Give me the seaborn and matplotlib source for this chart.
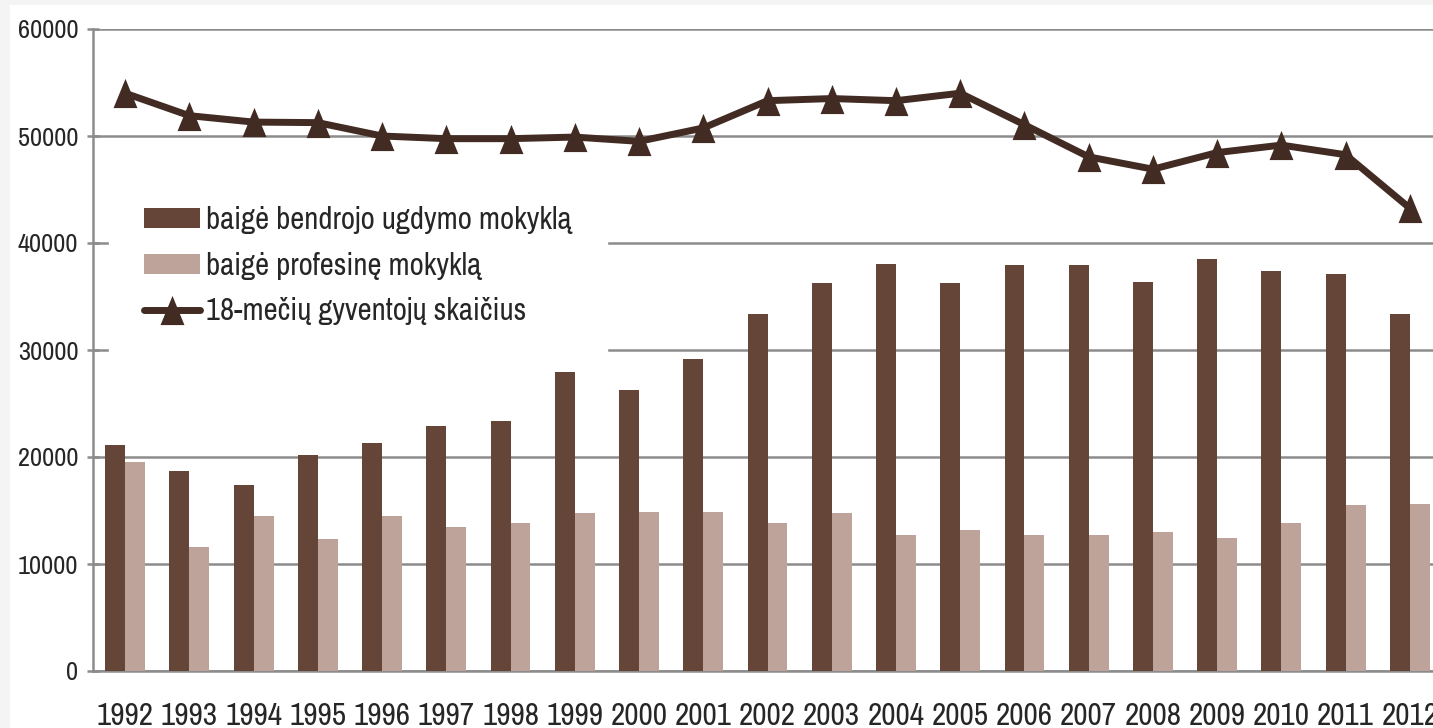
import numpy as np
import pandas as pd
import matplotlib
matplotlib.use("Agg")
import matplotlib.pyplot as plt
import seaborn as sns
from matplotlib import font_manager
from matplotlib.path import Path
from matplotlib.patches import Patch, Rectangle
from matplotlib.lines import Line2D

# Data
years = [str(y) for y in range(1992, 2013)]
general_school = [21100, 18700, 17400, 20200, 21300, 22900, 23400, 27900, 26300, 29200,
                  33400, 36300, 38000, 36300, 37900, 37900, 36400, 38500, 37400, 37100, 33400]
vocational_school = [19500, 11600, 14500, 12300, 14500, 13500, 13800, 14800, 14900, 14900,
                     13800, 14800, 12700, 13200, 12700, 12700, 13000, 12400, 13800, 15500, 15600]
population_18 = [54000, 51900, 51300, 51250, 50000, 49750, 49750, 49900, 49500, 50750,
                 53300, 53500, 53300, 54000, 51050, 48050, 46900, 48450, 49150, 48250, 43250]

labels = ["baigė bendrojo ugdymo mokyklą", "baigė profesinę mokyklą",
          "18-mečių gyventojų skaičius"]
y_ticks = [0, 10000, 20000, 30000, 40000, 50000, 60000]

# Colours
DARK = "#644537"
LIGHT = "#bea39b"
LINE = "#422b22"
GRID = "#8c8c8c"
TEXT = "#262626"

sns.set_theme(style="white")

# pick a narrow font if one is installed (the original uses a condensed face)
fonts = font_manager.fontManager.ttflist
narrow = [f.name for f in fonts if "Narrow" in f.name or "Condensed" in f.name]
dejavu_cond = any(f.name == "DejaVu Sans" and f.stretch == "condensed" for f in fonts)
if narrow:
    FONT, STRETCH = narrow[0], "normal"
elif dejavu_cond:
    FONT, STRETCH = "DejaVu Sans", "condensed"
else:
    FONT, STRETCH = "Roboto", "normal"
plt.rcParams["font.family"] = [FONT, "DejaVu Sans"]
plt.rcParams["font.stretch"] = STRETCH

fig = plt.figure(figsize=(14.33, 7.28), dpi=100, facecolor="#f4f4f4")
# white chart area inside the light grey page border
fig.patches.append(Rectangle((10 / 1433, 0), 1, 723 / 728, transform=fig.transFigure,
                             facecolor="white", edgecolor="none", zorder=-10))
ax = fig.add_axes([93 / 1433, 57 / 728, 1349 / 1433, 642 / 728])
ax.patch.set_alpha(0)

df = pd.DataFrame({
    "year": years * 2,
    "value": general_school + vocational_school,
    "type": [labels[0]] * len(years) + [labels[1]] * len(years),
})
sns.barplot(data=df, x="year", y="value", hue="type", palette=[DARK, LIGHT],
            width=0.62, saturation=1, legend=False, edgecolor="none", linewidth=0,
            ax=ax, zorder=3)

# tall triangle marker
tri = Path([(-0.41, -0.5), (0.41, -0.5), (0, 0.5), (-0.41, -0.5)],
           [Path.MOVETO, Path.LINETO, Path.LINETO, Path.CLOSEPOLY])
sns.lineplot(x=np.arange(len(years)), y=population_18, color=LINE, lw=5,
             marker=tri, markersize=21, markeredgewidth=0, ax=ax, zorder=4)

ax.set_xlim(-0.5, len(years) - 0.5)
ax.set_ylim(0, 60000)
ax.set_yticks(y_ticks)
ax.set_yticklabels([str(v) for v in y_ticks])
ax.set_xticks(np.arange(len(years)))
ax.set_xticklabels(years)
ax.set_xticks(np.arange(-0.5, len(years), 1), minor=True)
ax.set_xlabel("")
ax.set_ylabel("")

ax.grid(axis="y", color=GRID, lw=1.8, zorder=0)
ax.set_axisbelow(True)
for side in ["top", "right"]:
    ax.spines[side].set_visible(False)
for side in ["left", "bottom"]:
    ax.spines[side].set_color(GRID)
    ax.spines[side].set_linewidth(1.8)

ax.tick_params(axis="x", which="major", length=0, pad=22, labelsize=22.5, labelcolor=TEXT)
ax.tick_params(axis="x", which="minor", length=6, width=1.8, color=GRID, direction="out")
ax.tick_params(axis="y", length=9, width=1.8, color=GRID, direction="inout", pad=6,
               labelsize=19, labelcolor=TEXT, left=True)

handles = [
    Patch(facecolor=DARK, edgecolor="none"),
    Patch(facecolor=LIGHT, edgecolor="none"),
    Line2D([], [], color=LINE, lw=5, marker=tri, markersize=21, markeredgewidth=0),
]
leg = ax.legend(handles, labels, loc="upper left", bbox_to_anchor=(109 / 1433, 0.765),
                bbox_transform=fig.transFigure, fontsize=22.2, handlelength=1.82,
                handleheight=0.62, handletextpad=0.2, labelspacing=0.57,
                borderpad=1.14, borderaxespad=0, frameon=True, fancybox=False,
                framealpha=1, facecolor="white", edgecolor="white")
for t in leg.get_texts():
    t.set_color(TEXT)
leg.set_zorder(5)

fig.savefig("out.png", dpi=100, facecolor=fig.get_facecolor())
